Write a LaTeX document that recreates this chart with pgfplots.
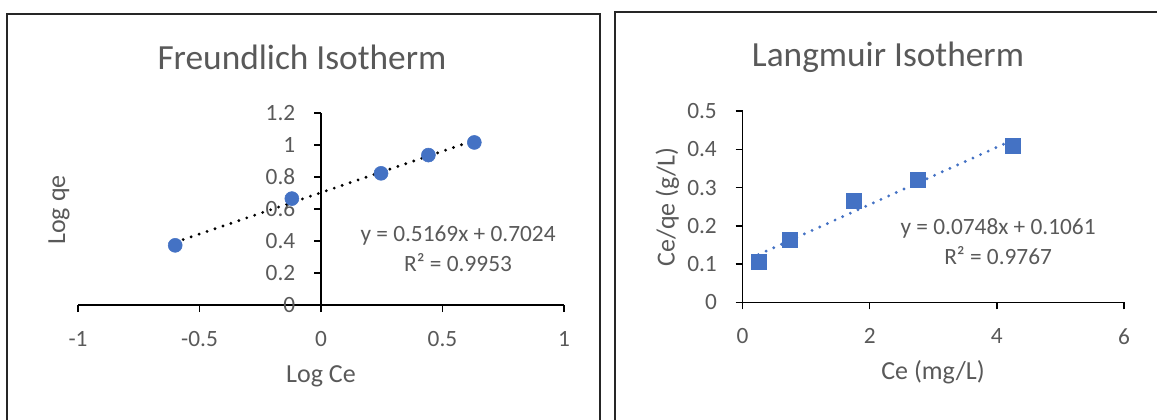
\documentclass[border=0pt]{standalone}
\usepackage{fontspec}
\setmainfont{Carlito}
\usepackage{pgfplots}
\pgfplotsset{compat=1.18}
\definecolor{xlblue}{HTML}{4472C4}
\definecolor{xlgray}{HTML}{595959}

\tikzset{xllabel/.style={font=\fontsize{19.5}{23}\selectfont, text=xlgray}}
\pgfplotsset{
  xlbase/.style={
    scale only axis,
    tick align=outside,
    major tick length=5.25pt,
    axis line style={-, black, line width=1.1pt},
    tick style={black, line width=1.1pt},
    ticklabel style={font=\fontsize{17.5}{20}\selectfont, text=xlgray},
    xticklabel style={yshift=-11pt},
    yticklabel style={xshift=-10.5pt},
    clip=false,
  },
}

\begin{document}
\begin{tikzpicture}
\clip (0,0) rectangle (867.75pt,314.25pt);
% panel frames
\draw[black!85, line width=1.1pt] (5.25pt,303.75pt) rectangle (450pt,-10pt);
\draw[black!85, line width=1.1pt] (461.25pt,305.25pt) rectangle (880pt,-10pt);

% titles
\node[text=xlgray, font=\fontsize{26.5}{30}\selectfont] at (226.5pt,271.5pt) {Freundlich Isotherm};
\node[text=xlgray, font=\fontsize{26.5}{30}\selectfont] at (666pt,271.5pt) {Langmuir Isotherm};

% Freundlich
\begin{axis}[xlbase,
  at={(58.5pt,85.5pt)}, anchor=south west,
  width=364.5pt, height=144pt,
  xmin=-1, xmax=1, ymin=0, ymax=1.2,
  axis x line*=bottom, axis y line*=middle,
  hide obscured x ticks=false, hide obscured y ticks=false,
  xtick={-1,-0.5,0,0.5,1}, xticklabels={-1,-0.5,0,0.5,1},
  ytick={0,0.2,0.4,0.6,0.8,1,1.2}, yticklabels={0,0.2,0.4,0.6,0.8,1,1.2},
  xlabel={Log Ce}, ylabel={Log qe},
  x label style={xllabel, at={(axis description cs:0.5,-0.37)}, anchor=center},
  y label style={xllabel, at={(axis description cs:-0.039,0.495)}, anchor=center},
]
\addplot[only marks, mark=*, mark size=5.25pt, mark options={fill=xlblue, draw=xlblue}]
  coordinates {(-0.60,0.373) (-0.12,0.665) (0.247,0.823) (0.442,0.937) (0.631,1.016)};
\addplot[black, line width=2.4pt, line cap=round, dash pattern=on 0pt off 6.3pt]
  coordinates {(-0.60,0.3923) (0.631,1.0286)};
\node[text=xlgray, font=\fontsize{17.5}{20}\selectfont] at (axis cs:0.564,0.4375) {y = 0.5169x + 0.7024};
\node[text=xlgray, font=\fontsize{17.5}{20}\selectfont] at (axis cs:0.564,0.2625) {R² = 0.9953};
\end{axis}

% Langmuir
\begin{axis}[xlbase,
  at={(556.9pt,87.5pt)}, anchor=south west,
  width=286.1pt, height=143.5pt,
  xmin=0, xmax=6, ymin=0, ymax=0.5,
  axis x line*=bottom, axis y line*=left,
  xtick={0,2,4,6}, xticklabels={0,2,4,6},
  ytick={0,0.1,0.2,0.3,0.4,0.5}, yticklabels={0,0.1,0.2,0.3,0.4,0.5},
  xlabel={Ce (mg/L)}, ylabel={Ce/qe (g/L)},
  x label style={xllabel, at={(axis description cs:0.4993,-0.364)}, anchor=center},
  y label style={xllabel, at={(axis description cs:-0.197,0.498)}, anchor=center},
]
\addplot[only marks, mark=square*, mark size=5.6pt, mark options={fill=xlblue, draw=xlblue}]
  coordinates {(0.25,0.106) (0.75,0.163) (1.75,0.265) (2.75,0.320) (4.25,0.409)};
\addplot[xlblue, line width=2.4pt, line cap=round, dash pattern=on 0pt off 6.3pt]
  coordinates {(0.25,0.1248) (4.25,0.4240)};
\node[text=xlgray, font=\fontsize{17.5}{20}\selectfont] at (axis cs:4.02,0.194) {y = 0.0748x + 0.1061};
\node[text=xlgray, font=\fontsize{17.5}{20}\selectfont] at (axis cs:4.02,0.121) {R² = 0.9767};
\end{axis}
\end{tikzpicture}
\end{document}
